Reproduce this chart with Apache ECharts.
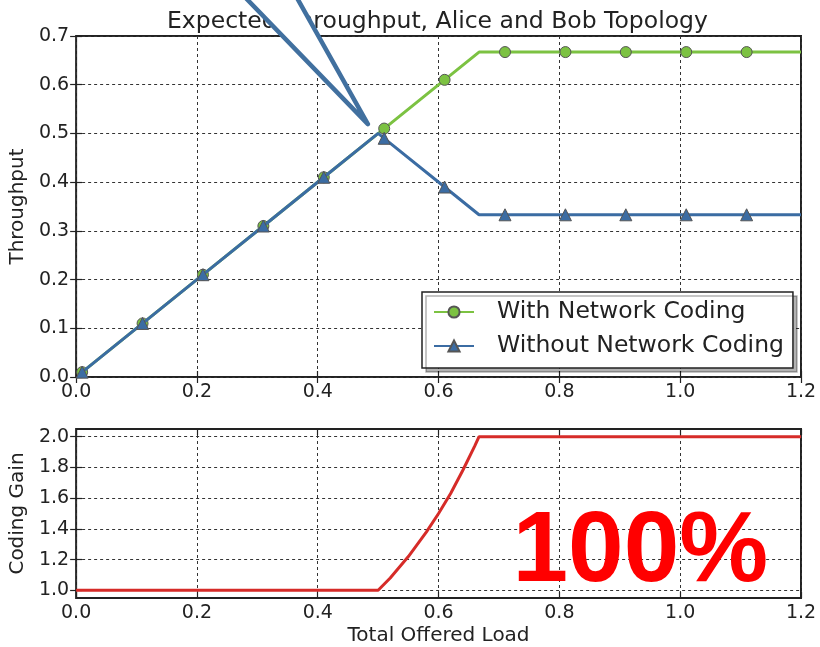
<!DOCTYPE html>
<html>
<head>
<meta charset="utf-8">
<script src="https://cdn.jsdelivr.net/npm/echarts@6/dist/echarts.min.js"></script>
<style>
  html, body { margin: 0; padding: 0; background: #fff; }
  #chart { width: 820px; height: 647px; }
</style>
</head>
<body>
<div id="chart"></div>
<script>
const FONT = 'DejaVu Sans'

// offered load where the markers sit
const markLoad = [0.01, 0.11, 0.21, 0.31, 0.41, 0.51, 0.61, 0.71, 0.81, 0.91, 1.01, 1.11]
const withCoding = [0.01, 0.11, 0.21, 0.31, 0.41, 0.51, 0.61, 0.667, 0.667, 0.667, 0.667, 0.667]
const withoutCoding = [0.01, 0.11, 0.21, 0.31, 0.41, 0.49, 0.39, 0.333, 0.333, 0.333, 0.333, 0.333]
// corners of the curves (no marker drawn there)
const withBends = [[0.667, 0.667], [1.2, 0.667]]
const withoutBends = [[0.5, 0.5], [0.667, 0.333], [1.2, 0.333]]

const gainLoad = [0, 0.5, 0.52, 0.55, 0.58, 0.6, 0.62, 0.64, 0.66, 0.667, 1.2]
const gainValue = [1, 1, 1.08, 1.22, 1.38, 1.5, 1.63, 1.78, 1.94, 2.0, 2.0]
const gainTicks = [1.0, 1.2, 1.4, 1.6, 1.8, 2.0]

// callout wedge, in throughput-plot data space
const arrowTip = [0.483, 0.519]
const arrowTail = [[0.252, 0.815], [0.349, 0.815]]
const gainNote = '100%'
const gainNoteAt = [0.934, 1.238]

function buildLine(xs, ys, bends) {
  const pts = xs.map((x, i) => ({ value: [x, ys[i]] }))
  bends.forEach(b => pts.push({ value: b, symbol: 'none' }))
  pts.sort((a, b) => a.value[0] - b.value[0])
  return pts
}

const fmt1 = v => v.toFixed(1)
const gridLine = { color: '#333', type: [3, 3], width: 1 }
const tick = { inside: true, length: 6, lineStyle: { color: '#222', width: 1.2 } }
const label = { fontFamily: FONT, fontSize: 19, color: '#222', formatter: fmt1 }
const nameStyle = { fontFamily: FONT, fontSize: 20, color: '#222' }

const chart = echarts.init(document.getElementById('chart'))

chart.setOption({
  animation: false,
  backgroundColor: '#fff',
  title: {
    text: 'Expected Throughput, Alice and Bob Topology',
    left: 167,
    top: 10,
    padding: 0,
    textStyle: { fontFamily: FONT, fontSize: 23.5, fontWeight: 'normal', color: '#222' },
  },
  legend: {
    orient: 'vertical',
    left: 422,
    top: 292,
    padding: [8, 9, 10, 11],
    itemGap: 10,
    itemWidth: 40,
    itemHeight: 14,
    backgroundColor: '#fff',
    borderColor: '#222',
    borderWidth: 1.5,
    borderRadius: 0,
    shadowColor: 'rgba(0,0,0,0.3)',
    shadowOffsetX: 4,
    shadowOffsetY: 4,
    shadowBlur: 0,
    textStyle: { fontFamily: FONT, fontSize: 23.5, color: '#222', padding: [0, 0, 0, 18] },
    data: ['With Network Coding', 'Without Network Coding'],
  },
  grid: [
    { left: 75, right: 19, top: 36, height: 341, show: true, borderColor: '#222', borderWidth: 2, backgroundColor: '#fff' },
    { left: 75, right: 19, top: 429, height: 171, show: true, borderColor: '#222', borderWidth: 2, backgroundColor: '#fff' },
  ],
  xAxis: [
    {
      type: 'value', gridIndex: 0, min: 0, max: 1.2, interval: 0.2,
      axisLine: { show: false }, axisTick: tick, splitLine: { lineStyle: gridLine },
      axisLabel: { ...label, margin: 6 },
    },
    {
      type: 'value', gridIndex: 1, min: 0, max: 1.2, interval: 0.2,
      name: 'Total Offered Load', nameLocation: 'middle', nameGap: 28,
      nameTextStyle: nameStyle,
      axisLine: { show: false }, axisTick: tick, splitLine: { lineStyle: gridLine },
      axisLabel: { ...label, margin: 6 },
    },
    {
      type: 'value', gridIndex: 0, position: 'top', min: 0, max: 1.2, interval: 0.2,
      axisLine: { show: false }, axisTick: tick, splitLine: { show: false }, axisLabel: { show: false },
    },
    {
      type: 'value', gridIndex: 1, position: 'top', min: 0, max: 1.2, interval: 0.2,
      axisLine: { show: false }, axisTick: tick, splitLine: { show: false }, axisLabel: { show: false },
    },
  ],
  yAxis: [
    {
      type: 'value', gridIndex: 0, min: 0, max: 0.7, interval: 0.1,
      name: 'Throughput', nameLocation: 'middle', nameGap: 42,
      nameTextStyle: nameStyle,
      axisLine: { show: false }, axisTick: tick, splitLine: { lineStyle: gridLine },
      axisLabel: { ...label, margin: 7 },
    },
    {
      type: 'value', gridIndex: 1, min: 0.95, max: 2.05,
      name: 'Coding Gain', nameLocation: 'middle', nameGap: 42,
      nameTextStyle: nameStyle,
      axisLine: { show: false },
      axisTick: { ...tick, customValues: gainTicks },
      splitLine: { lineStyle: gridLine },
      axisLabel: { ...label, margin: 7, customValues: gainTicks },
    },
    {
      type: 'value', gridIndex: 0, position: 'right', min: 0, max: 0.7, interval: 0.1,
      axisLine: { show: false }, axisTick: tick, splitLine: { show: false }, axisLabel: { show: false },
    },
    {
      type: 'value', gridIndex: 1, position: 'right', min: 0.95, max: 2.05,
      axisLine: { show: false }, axisTick: { ...tick, customValues: gainTicks },
      splitLine: { show: false }, axisLabel: { show: false },
    },
  ],
  series: [
    {
      name: 'With Network Coding',
      type: 'line',
      xAxisIndex: 0,
      yAxisIndex: 0,
      data: buildLine(markLoad, withCoding, withBends),
      symbol: 'circle',
      symbolSize: 11,
      color: '#7cc242',
      lineStyle: { color: '#7cc242', width: 3 },
      itemStyle: { color: '#7cc242', borderColor: '#555', borderWidth: 1 },
      z: 3,
    },
    {
      name: 'Without Network Coding',
      type: 'line',
      xAxisIndex: 0,
      yAxisIndex: 0,
      data: buildLine(markLoad, withoutCoding, withoutBends),
      symbol: 'triangle',
      symbolSize: 12,
      color: '#3b6ca3',
      lineStyle: { color: '#3b6ca3', width: 3 },
      itemStyle: { color: '#3b6ca3', borderColor: '#555', borderWidth: 1 },
      z: 4,
    },
    {
      name: 'Coding Gain',
      type: 'line',
      xAxisIndex: 1,
      yAxisIndex: 1,
      data: gainLoad.map((x, i) => [x, gainValue[i]]),
      showSymbol: false,
      symbol: 'none',
      clip: false,
      lineStyle: { color: '#d62b28', width: 3 },
      z: 3,
    },
  ],
})

// annotations placed through the axes' own scales
const upperPlot = { xAxisIndex: 0, yAxisIndex: 0 }
const lowerPlot = { xAxisIndex: 1, yAxisIndex: 1 }
const tip = chart.convertToPixel(upperPlot, arrowTip)
const tails = arrowTail.map(p => chart.convertToPixel(upperPlot, p))
const notePos = chart.convertToPixel(lowerPlot, gainNoteAt)

chart.setOption({
  graphic: [
    {
      type: 'polygon',
      z: 100,
      shape: { points: [tails[0], tip, tails[1]] },
      style: { fill: '#fff', stroke: '#41709f', lineWidth: 4.5, lineJoin: 'round' },
    },
    {
      type: 'text',
      z: 100,
      x: notePos[0],
      y: notePos[1],
      style: {
        text: gainNote,
        fill: '#ff0000',
        font: 'bold 100px "Liberation Sans"',
        textAlign: 'center',
        textVerticalAlign: 'middle',
      },
    },
  ],
})
</script>
</body>
</html>
